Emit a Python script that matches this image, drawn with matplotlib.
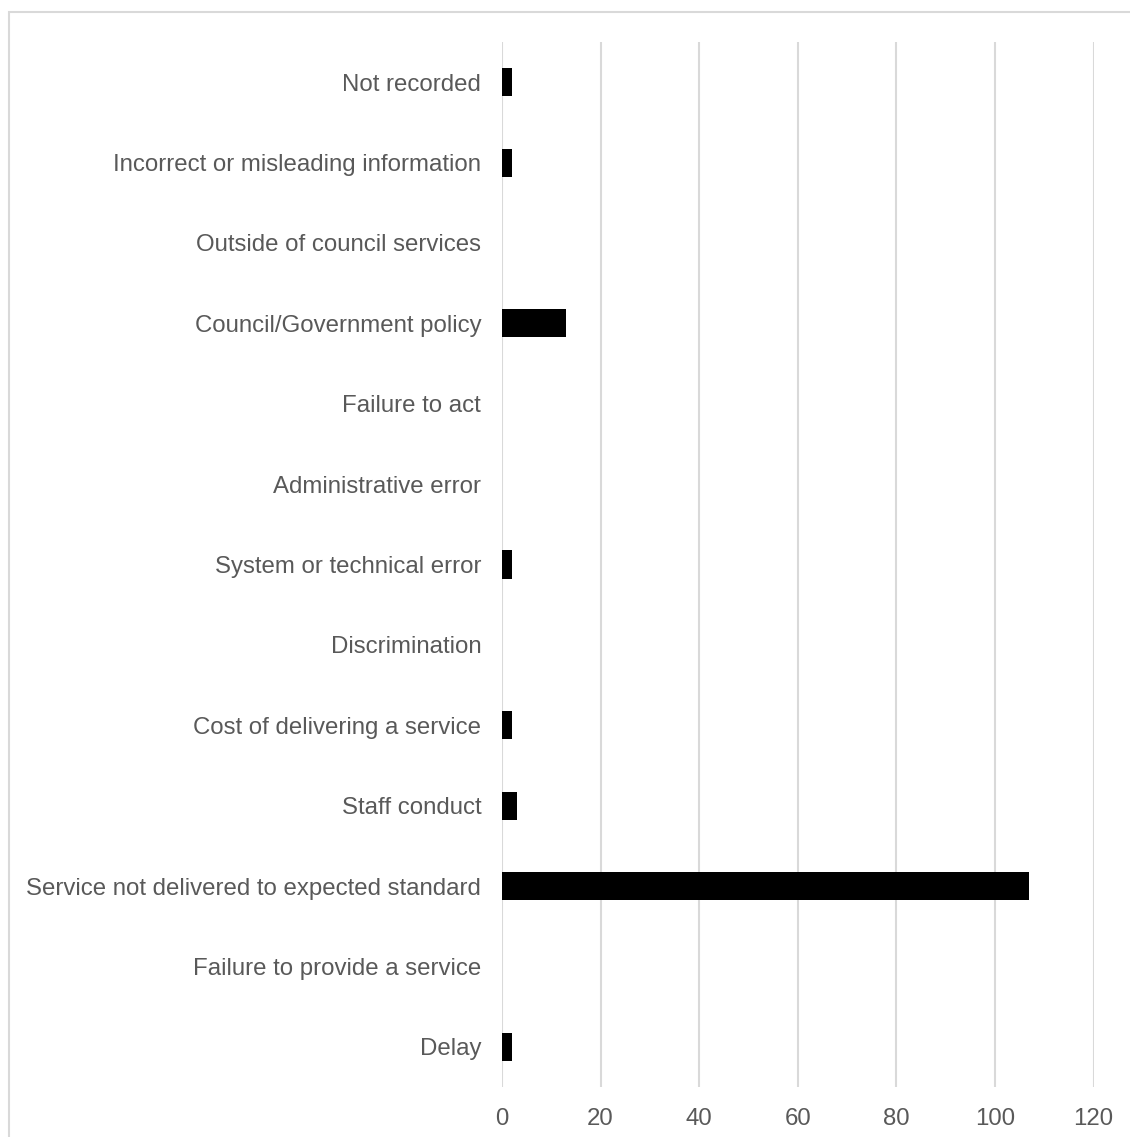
import matplotlib.pyplot as plt
from matplotlib.patches import Rectangle

categories = [
    "Delay",
    "Failure to provide a service",
    "Service not delivered to expected standard",
    "Staff conduct",
    "Cost of delivering a service",
    "Discrimination",
    "System or technical error",
    "Administrative error",
    "Failure to act",
    "Council/Government policy",
    "Outside of council services",
    "Incorrect or misleading information",
    "Not recorded",
]
counts = [2, 0, 107, 3, 2, 0, 2, 0, 0, 13, 0, 2, 2]
x_ticks = [0, 20, 40, 60, 80, 100, 120]

plt.rcParams["font.family"] = ["Liberation Sans", "DejaVu Sans"]

fig = plt.figure(figsize=(11.3, 11.37), dpi=100)
W, H = 1130, 1137

# light grey frame round the chart area (runs off the right and bottom edges)
fig.patches.append(Rectangle((9 / W, -0.05), 1.5, 1 - 12 / H + 0.05,
                             transform=fig.transFigure, fill=False,
                             edgecolor="#d9d9d9", linewidth=1.5))

ax = fig.add_axes([502 / W, 1 - 1087 / H, (1093.5 - 502) / W, (1087 - 42) / H])

y = list(range(len(categories)))
ax.barh(y, counts, height=0.35, color="black", zorder=3)

ax.set_xlim(0, 120)
ax.set_ylim(-0.5, len(categories) - 0.5)
ax.set_xticks(x_ticks)
ax.set_yticks(y)
ax.set_yticklabels(categories)

ax.grid(axis="x", color="#d9d9d9", linewidth=1.5, zorder=0)
for s in ax.spines.values():
    s.set_visible(False)
ax.tick_params(axis="both", length=0, labelsize=17.3, colors="#595959")
ax.tick_params(axis="y", pad=15)
ax.tick_params(axis="x", pad=15)

fig.savefig("out.png", dpi=100)
